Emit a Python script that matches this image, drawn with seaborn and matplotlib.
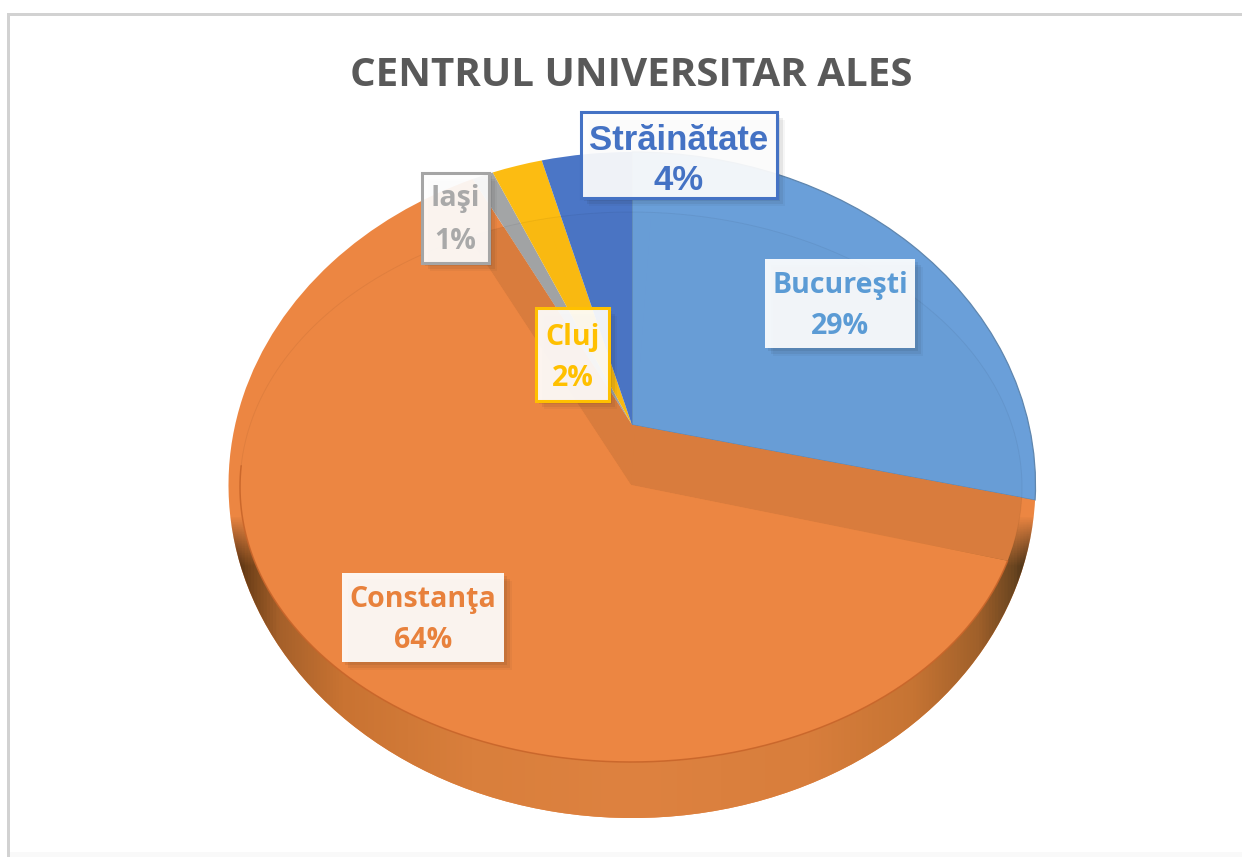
import numpy as np
import seaborn as sns
import matplotlib
matplotlib.use("Agg")
import matplotlib.pyplot as plt
import matplotlib.patheffects as pe
from matplotlib.colors import LinearSegmentedColormap
from matplotlib.patches import Rectangle
from matplotlib.transforms import Transform

TITLE = "CENTRUL UNIVERSITAR ALES"
categories = ["Bucureşti", "Constanţa", "Iaşi", "Cluj", "Străinătate"]
values = [28.6, 63.7, 1.0, 2.4, 4.3]
colors = ["#6A9FD9", "#EC8642", "#A3A5A6", "#FCBC12", "#4B76C6"]
text_colors = ["#5B9BD5", "#E8813C", "#A9A9A9", "#FFC000", "#4472C4"]
border_colors = [None, None, "#A5A5A5", "#FFC000", "#4472C4"]
shade_colour = "#DC7E3E"

sns.set_theme(style="white")
plt.rcParams["font.family"] = ["Open Sans", "DejaVu Sans"]

fig = plt.figure(figsize=(12.42, 8.57), dpi=100, facecolor="white")
ax = fig.add_axes([0, 0, 1, 1])
palette = sns.color_palette(colors)


class Perspective(Transform):
    """Projects the unit pie circle on to a tilted ellipse in pixel space."""
    input_dims = output_dims = 2
    is_separable = False
    has_inverse = False

    def __init__(self, cx, apex, top, bottom, half_w):
        super().__init__()
        up, down = apex - top, bottom - apex
        self.c = (down / up - 1) / (down / up + 1)
        self.h = up * (1 + self.c)
        self.a = half_w * np.sqrt(1 - self.c ** 2)
        self.cx, self.apex = cx, apex

    def transform_non_affine(self, pts):
        pts = np.asarray(pts, float)
        d = 1 + self.c * pts[:, 1]
        return np.column_stack([self.cx + self.a * pts[:, 0] / d,
                                self.apex - self.h * pts[:, 1] / d])


upper = Perspective(632, 425, 152, 818, 403.5)
lower = Perspective(631, 485, 212, 762, 391)
lower_start = 87

# upper layer: full pie, its Constanţa slice also forms the side wall
wedges, _ = ax.pie(values, colors=palette, startangle=90, counterclock=False)
for w in wedges:
    w.set_transform(upper + ax.transData)
    w.set_zorder(2)
    w.set_linewidth(0)
wedges[0].set(edgecolor="#5F86AE", linewidth=0.9)

# side wall shading, clipped to the Constanţa slice
wall = LinearSegmentedColormap.from_list("wall", [
    (0.00, "#3E2510"), (0.02, "#6E4018"), (0.06, "#A5602A"), (0.14, "#C97332"),
    (0.30, "#D97F3C"), (0.50, "#DE8240"), (0.72, "#D87E3C"), (0.85, "#C67433"),
    (0.93, "#A0602A"), (0.975, "#6A4520"), (1.00, "#2E2412")])
rgba = wall(np.tile(np.linspace(0, 1, 512), (128, 1)))
rgba[:, :, 3] = np.clip(np.linspace(0, 6, 128), 0, 1)[:, None]
im = ax.imshow(rgba, aspect="auto", extent=(229, 1036, 818, 515), zorder=3)
im.set_clip_path(wedges[1])

# lower layer: the visible top face
faces, _ = ax.pie(values, colors=palette, startangle=lower_start, counterclock=False)
for i, w in enumerate(faces):
    w.set_transform(lower + ax.transData)
    w.set_linewidth(0)
    w.set_zorder(4)
    w.set_facecolor(colors[1] if i == 1 else (0, 0, 0, 0.012))

# shaded band where the small slices fall on the Constanţa slice
others = sum(values) - values[1]
shade, _ = ax.pie([values[1], others], colors=["none", shade_colour],
                  startangle=lower_start - 360 * values[0] / sum(values), counterclock=False)
for w in shade:
    w.set_transform(lower + ax.transData)
    w.set_linewidth(0)
    w.set_zorder(3.5)
    w.set_clip_on(True)
    w.set_clip_path(wedges[1])

# rim of the top face: marked along the front, faint along the back
fracs = np.cumsum([0] + values) / np.sum(values)
start = np.deg2rad(lower_start)
rim_from = start - 2 * np.pi * fracs[1]
rim_turn = -np.pi - np.deg2rad(4)
rim = np.linspace(rim_from, rim_turn, 300)
ax.plot(np.cos(rim), np.sin(rim), color="#C8652A", lw=1.1, alpha=0.9, zorder=5,
        transform=lower + ax.transData)
rest = np.linspace(rim_turn, rim_from - 2 * np.pi + (rim_from - rim_turn) * 0, 300)
rest = rest[rest > rim_from - 2 * np.pi]
ax.plot(np.cos(rest), np.sin(rest), color="#000000", lw=0.7, alpha=0.05, zorder=5,
        transform=lower + ax.transData)

ax.set_aspect("auto")
ax.set_box_aspect(None)
ax.set_xlim(0, 1242)
ax.set_ylim(857, 0)
ax.set_axis_off()

# frame of the picture
ax.add_patch(Rectangle((7, 13), 3, 844, fc="#D2D2D2", ec="none", zorder=1))
ax.add_patch(Rectangle((7, 13), 1235, 3, fc="#D2D2D2", ec="none", zorder=1))
ax.add_patch(Rectangle((10, 852), 1232, 5, fc="#F9F9F9", ec="none", zorder=1))

ax.text(631, 75, TITLE, ha="center", va="center", fontsize=29, fontweight="bold",
        color="#595959", zorder=10)

# label boxes: x0, y0, x1, y1 in pixels, then the centres of the two text lines
boxes = [(765, 259, 915, 348), (342, 573, 504, 662), (422, 173, 489, 263),
         (536, 308, 609, 401), (581, 112, 777, 198)]
line_y = [(285, 327), (600, 641), (198, 241), (337, 378), (140, 180)]
label_family = ["Open Sans"] * 4 + ["Liberation Sans"]
label_size = [20.5, 20.5, 20.5, 20.5, 25]

shadow = [pe.SimplePatchShadow((2, -2), shadow_rgbFace="k", alpha=0.08),
          pe.SimplePatchShadow((4, -4), shadow_rgbFace="k", alpha=0.07),
          pe.SimplePatchShadow((6, -6), shadow_rgbFace="k", alpha=0.04),
          pe.Normal()]

for name, val, tc, bc, box, ys, fam, fs in zip(categories, values, text_colors, border_colors,
                                                boxes, line_y, label_family, label_size):
    x0, y0, x1, y1 = box
    r = Rectangle((x0, y0), x1 - x0, y1 - y0, facecolor=(1, 1, 1, 0.92),
                  edgecolor=bc if bc else "none", linewidth=2.2 if bc else 0, zorder=7)
    r.set_path_effects(shadow)
    ax.add_patch(r)
    xc = (x0 + x1) / 2
    ax.text(xc, ys[0], name, ha="center", va="center", color=tc, fontsize=fs,
            fontweight="bold", family=fam, zorder=8)
    ax.text(xc, ys[1], f"{val:.0f}%", ha="center", va="center", color=tc, fontsize=fs,
            fontweight="bold", family=fam, zorder=8)

fig.savefig("out.png", dpi=100, facecolor="white")
